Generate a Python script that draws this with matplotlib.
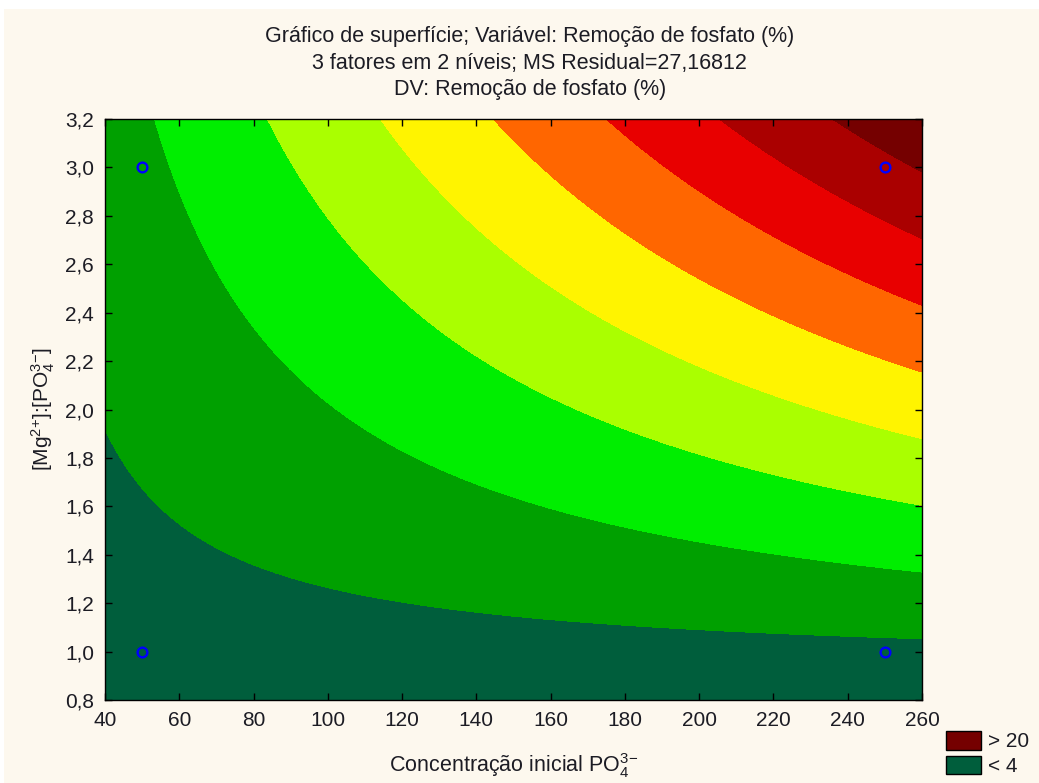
import numpy as np
import matplotlib
matplotlib.use('Agg')
import matplotlib.pyplot as plt
from matplotlib.patches import Patch, Rectangle

# ── Fonts ──────────────────────────────────────────────
plt.rcParams['font.family'] = ['Liberation Sans', 'DejaVu Sans']
plt.rcParams['mathtext.fontset'] = 'custom'
plt.rcParams['mathtext.rm'] = 'Liberation Sans'
plt.rcParams['mathtext.it'] = 'Liberation Sans'

# ── Design points and fitted response ──────────────────
conc_levels = [50, 250]          # Concentração inicial PO4 (mg/L)
ratio_levels = [1.0, 3.0]        # razão molar Mg:PO4
# fitted removal (%) at (conc, ratio): rows = conc, cols = ratio
removal_fit = [[3.10, 5.77],
               [3.54, 19.47]]

levels = np.linspace(4, 20, 8)
band_colors = ['#005e3c', '#00a000', '#00ee00', '#aaff00', '#fff400',
               '#ff6600', '#e80000', '#aa0000', '#750000']
xticks = [40, 60, 80, 100, 120, 140, 160, 180, 200, 220, 240, 260]
yticks = [0.8, 1.0, 1.2, 1.4, 1.6, 1.8, 2.0, 2.2, 2.4, 2.6, 2.8, 3.0, 3.2]

BG = '#fdf8ee'
TXT = '#1c1c24'

# model z = b0 + b1*x + b2*y + b12*x*y through the 4 design points
rows, rhs = [], []
for i, xc in enumerate(conc_levels):
    for j, yr in enumerate(ratio_levels):
        rows.append([1.0, xc, yr, xc * yr])
        rhs.append(removal_fit[i][j])
b0, b1, b2, b12 = np.linalg.solve(np.array(rows), np.array(rhs))

xg = np.linspace(40, 260, 400)
yg = np.linspace(0.8, 3.2, 400)
X, Y = np.meshgrid(xg, yg)
Z = b0 + b1 * X + b2 * Y + b12 * X * Y

# ── Figure ─────────────────────────────────────────────
fig = plt.figure(figsize=(10.39, 7.83), dpi=100, facecolor='white')
fig.patches.append(Rectangle((4 / 1039, 0), 1, 1 - 9 / 783, transform=fig.transFigure,
                             facecolor=BG, edgecolor='none', zorder=-10))

ax = fig.add_axes([105 / 1039, 1 - 700 / 783, 817 / 1039, 581 / 783])
ax.contourf(X, Y, Z, levels=levels, colors=band_colors, extend='both', antialiased=False)

dx, dy = np.meshgrid(conc_levels, ratio_levels)
ax.plot(dx.ravel(), dy.ravel(), 'o', ms=7, mfc='none', mec='#0000ff', mew=1.7)

ax.set_xlim(40, 260)
ax.set_ylim(0.8, 3.2)
ax.set_xticks(xticks)
ax.set_yticks(yticks)
ax.set_xticklabels([str(v) for v in xticks])
ax.set_yticklabels([f'{v:.1f}'.replace('.', ',') for v in yticks])
ax.tick_params(direction='in', length=5, width=1, top=True, right=True,
               labelsize=15, colors='black', labelcolor=TXT, pad=8)
for s in ax.spines.values():
    s.set_linewidth(1.0)
    s.set_color('black')

ax.set_xlabel(r'Concentração inicial PO$_4^{3{-}}$', fontsize=15.5, color=TXT, labelpad=15)
ax.set_ylabel(r'[Mg$^{2{+}}$]:[PO$_4^{3{-}}$]', fontsize=15, color=TXT, labelpad=6)

fig.text(0.510, 1 - 63 / 783,
         'Gráfico de superfície; Variável: Remoção de fosfato (%)\n'
         '3 fatores em 2 níveis; MS Residual=27,16812\n'
         'DV: Remoção de fosfato (%)',
         ha='center', va='center', fontsize=15.5, color=TXT, linespacing=1.36)

handles = [Patch(facecolor=band_colors[-1], edgecolor='black', linewidth=1),
           Patch(facecolor=band_colors[0], edgecolor='black', linewidth=1)]
fig.legend(handles, ['> 20', '< 4'], loc='upper left',
           bbox_to_anchor=(946 / 1039, 1 - 731 / 783), frameon=False,
           fontsize=15, handlelength=1.7, handleheight=1.0, handletextpad=0.3,
           labelspacing=0.2, borderpad=0, borderaxespad=0, labelcolor=TXT)

fig.savefig('out.png', dpi=100, facecolor=fig.get_facecolor())
